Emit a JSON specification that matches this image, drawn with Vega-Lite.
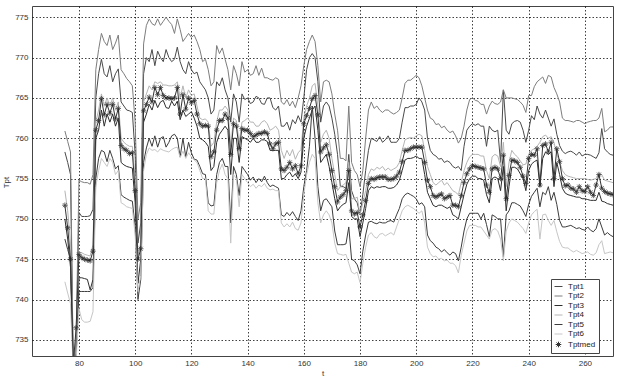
{
"$schema":"https://vega.github.io/schema/vega-lite/v6.json",
"width":581,"height":350,
"autosize":{"type":"none"},
"padding":{"left":32,"top":6,"right":10,"bottom":26},
"background":"#ffffff",
"config":{"view":{"stroke":"#444","strokeWidth":1},"font":"Liberation Sans",
 "axis":{"labelFont":"Liberation Sans","labelFontSize":8,"labelColor":"#333","titleFont":"Liberation Sans","titleFontSize":8,"titleFontWeight":"normal","titleColor":"#333","grid":true,"gridDash":[1.5,2],"gridColor":"#000","gridOpacity":0.75,"domain":false,"ticks":false}},
"data":{"values":[
{"t":75,"Tpt1":758.3,"Tpt2":760.9,"Tpt3":750.0,"Tpt4":753.5,"Tpt5":747.5,"Tpt6":742.2,"Tptmed":751.7},
{"t":76,"Tpt1":757.0,"Tpt2":759.6,"Tpt3":747.5,"Tpt4":751.0,"Tpt5":746.2,"Tpt6":740.8,"Tptmed":748.9},
{"t":77,"Tpt1":755.5,"Tpt2":758.3,"Tpt3":744.0,"Tpt4":747.0,"Tpt5":745.0,"Tpt6":739.5,"Tptmed":745.0},
{"t":78,"Tpt1":731,"Tpt2":731,"Tpt3":731,"Tpt4":731,"Tpt5":731,"Tpt6":731,"Tptmed":732.0},
{"t":79,"Tpt1":734.5,"Tpt2":735,"Tpt3":733.5,"Tpt4":734,"Tpt5":733,"Tpt6":732.5,"Tptmed":736.5},
{"t":80,"Tpt1":750.8,"Tpt2":754.8,"Tpt3":742.7,"Tpt4":745.9,"Tpt5":741.0,"Tpt6":738.9,"Tptmed":745.6},
{"t":81,"Tpt1":750.3,"Tpt2":754.6,"Tpt3":742.7,"Tpt4":745.8,"Tpt5":741.0,"Tpt6":737.5,"Tptmed":745.2},
{"t":82,"Tpt1":750.3,"Tpt2":754.5,"Tpt3":742.6,"Tpt4":745.6,"Tpt5":741.0,"Tpt6":737.2,"Tptmed":745.0},
{"t":83,"Tpt1":750.3,"Tpt2":754.5,"Tpt3":742.5,"Tpt4":745.5,"Tpt5":741.0,"Tpt6":737.2,"Tptmed":744.9},
{"t":84,"Tpt1":750.4,"Tpt2":754.3,"Tpt3":741.2,"Tpt4":745.4,"Tpt5":741.0,"Tpt6":737.3,"Tptmed":744.8},
{"t":85,"Tpt1":751.2,"Tpt2":755.5,"Tpt3":742.5,"Tpt4":746.8,"Tpt5":741.5,"Tpt6":738.5,"Tptmed":746.0},
{"t":86,"Tpt1":765.0,"Tpt2":768.5,"Tpt3":760.0,"Tpt4":762.0,"Tpt5":755.0,"Tpt6":754.0,"Tptmed":761.0},
{"t":87,"Tpt1":768.0,"Tpt2":771.0,"Tpt3":761.0,"Tpt4":763.5,"Tpt5":757.5,"Tpt6":756.0,"Tptmed":762.2},
{"t":88,"Tpt1":769.8,"Tpt2":773.0,"Tpt3":763.5,"Tpt4":765.5,"Tpt5":758.5,"Tpt6":757.5,"Tptmed":764.9},
{"t":89,"Tpt1":768.0,"Tpt2":772.0,"Tpt3":761.5,"Tpt4":764.0,"Tpt5":758.3,"Tpt6":757.0,"Tptmed":762.9},
{"t":90,"Tpt1":767.6,"Tpt2":771.5,"Tpt3":763.0,"Tpt4":765.0,"Tpt5":757.1,"Tpt6":756.5,"Tptmed":764.2},
{"t":91,"Tpt1":769.0,"Tpt2":772.8,"Tpt3":762.0,"Tpt4":764.0,"Tpt5":758.5,"Tpt6":757.5,"Tptmed":763.1},
{"t":92,"Tpt1":767.0,"Tpt2":771.0,"Tpt3":763.0,"Tpt4":765.0,"Tpt5":757.5,"Tpt6":757.0,"Tptmed":764.2},
{"t":93,"Tpt1":768.0,"Tpt2":771.8,"Tpt3":761.5,"Tpt4":763.5,"Tpt5":756.2,"Tpt6":755.5,"Tptmed":762.4},
{"t":94,"Tpt1":768.6,"Tpt2":772.8,"Tpt3":762.5,"Tpt4":764.5,"Tpt5":756.6,"Tpt6":756.0,"Tptmed":763.7},
{"t":95,"Tpt1":764.5,"Tpt2":768.5,"Tpt3":757.0,"Tpt4":760.0,"Tpt5":753.0,"Tpt6":752.0,"Tptmed":759.1},
{"t":96,"Tpt1":764.0,"Tpt2":768.0,"Tpt3":756.7,"Tpt4":759.5,"Tpt5":752.7,"Tpt6":751.8,"Tptmed":758.7},
{"t":97,"Tpt1":763.5,"Tpt2":767.4,"Tpt3":756.5,"Tpt4":759.2,"Tpt5":752.5,"Tpt6":751.5,"Tptmed":758.5},
{"t":98,"Tpt1":763.4,"Tpt2":767.0,"Tpt3":756.4,"Tpt4":759.0,"Tpt5":752.3,"Tpt6":751.4,"Tptmed":758.1},
{"t":99,"Tpt1":763.2,"Tpt2":766.5,"Tpt3":756.3,"Tpt4":759.0,"Tpt5":752.2,"Tpt6":751.3,"Tptmed":758.2},
{"t":100,"Tpt1":758.0,"Tpt2":762.0,"Tpt3":752.0,"Tpt4":755.0,"Tpt5":749.0,"Tpt6":748.0,"Tptmed":753.5},
{"t":101,"Tpt1":747.0,"Tpt2":750.0,"Tpt3":742.0,"Tpt4":745.5,"Tpt5":740.0,"Tpt6":741.0,"Tptmed":745.0},
{"t":102,"Tpt1":749.5,"Tpt2":752.0,"Tpt3":745.0,"Tpt4":747.0,"Tpt5":742.5,"Tpt6":743.0,"Tptmed":746.3},
{"t":103,"Tpt1":768.0,"Tpt2":771.7,"Tpt3":762.0,"Tpt4":764.5,"Tpt5":757.0,"Tpt6":756.0,"Tptmed":763.4},
{"t":104,"Tpt1":770.0,"Tpt2":774.0,"Tpt3":763.0,"Tpt4":765.5,"Tpt5":758.8,"Tpt6":758.0,"Tptmed":764.2},
{"t":105,"Tpt1":769.5,"Tpt2":774.8,"Tpt3":764.2,"Tpt4":766.5,"Tpt5":760.0,"Tpt6":758.8,"Tptmed":765.1},
{"t":106,"Tpt1":771.0,"Tpt2":774.2,"Tpt3":763.5,"Tpt4":766.0,"Tpt5":759.0,"Tpt6":758.5,"Tptmed":764.5},
{"t":107,"Tpt1":769.0,"Tpt2":774.0,"Tpt3":764.7,"Tpt4":767.0,"Tpt5":760.3,"Tpt6":758.6,"Tptmed":766.3},
{"t":108,"Tpt1":770.8,"Tpt2":774.8,"Tpt3":763.8,"Tpt4":766.8,"Tpt5":758.9,"Tpt6":758.3,"Tptmed":765.4},
{"t":109,"Tpt1":770.0,"Tpt2":774.0,"Tpt3":764.5,"Tpt4":767.0,"Tpt5":760.0,"Tpt6":758.7,"Tptmed":766.3},
{"t":110,"Tpt1":769.5,"Tpt2":774.5,"Tpt3":764.7,"Tpt4":766.6,"Tpt5":760.2,"Tpt6":758.5,"Tptmed":765.3},
{"t":111,"Tpt1":771.0,"Tpt2":775.0,"Tpt3":763.8,"Tpt4":766.6,"Tpt5":758.9,"Tpt6":758.4,"Tptmed":765.0},
{"t":112,"Tpt1":770.0,"Tpt2":774.5,"Tpt3":763.7,"Tpt4":766.5,"Tpt5":759.5,"Tpt6":758.3,"Tptmed":765.0},
{"t":113,"Tpt1":769.5,"Tpt2":774.1,"Tpt3":764.6,"Tpt4":766.5,"Tpt5":760.3,"Tpt6":758.6,"Tptmed":764.9},
{"t":114,"Tpt1":769.8,"Tpt2":773.0,"Tpt3":764.0,"Tpt4":766.6,"Tpt5":760.5,"Tpt6":758.8,"Tptmed":765.0},
{"t":115,"Tpt1":771.3,"Tpt2":774.8,"Tpt3":764.6,"Tpt4":767.0,"Tpt5":760.0,"Tpt6":758.9,"Tptmed":766.3},
{"t":116,"Tpt1":769.5,"Tpt2":773.5,"Tpt3":762.3,"Tpt4":765.0,"Tpt5":757.7,"Tpt6":757.6,"Tptmed":763.0},
{"t":117,"Tpt1":768.5,"Tpt2":772.0,"Tpt3":763.5,"Tpt4":766.5,"Tpt5":760.0,"Tpt6":758.4,"Tptmed":765.4},
{"t":118,"Tpt1":768.0,"Tpt2":772.5,"Tpt3":762.7,"Tpt4":765.0,"Tpt5":757.7,"Tpt6":757.5,"Tptmed":763.6},
{"t":119,"Tpt1":769.5,"Tpt2":773.0,"Tpt3":763.0,"Tpt4":766.0,"Tpt5":759.5,"Tpt6":758.2,"Tptmed":765.0},
{"t":120,"Tpt1":768.5,"Tpt2":772.5,"Tpt3":763.3,"Tpt4":765.3,"Tpt5":758.2,"Tpt6":757.7,"Tptmed":764.4},
{"t":121,"Tpt1":768.0,"Tpt2":772.8,"Tpt3":762.5,"Tpt4":765.5,"Tpt5":757.4,"Tpt6":757.3,"Tptmed":764.7},
{"t":122,"Tpt1":768.2,"Tpt2":772.0,"Tpt3":761.5,"Tpt4":764.0,"Tpt5":757.3,"Tpt6":757.0,"Tptmed":763.0},
{"t":123,"Tpt1":767.0,"Tpt2":771.0,"Tpt3":760.0,"Tpt4":762.5,"Tpt5":756.5,"Tpt6":756.0,"Tptmed":761.8},
{"t":124,"Tpt1":766.5,"Tpt2":769.5,"Tpt3":759.8,"Tpt4":762.3,"Tpt5":755.6,"Tpt6":755.0,"Tptmed":761.5},
{"t":125,"Tpt1":766.0,"Tpt2":769.8,"Tpt3":759.5,"Tpt4":762.4,"Tpt5":755.5,"Tpt6":755.0,"Tptmed":761.6},
{"t":126,"Tpt1":765.0,"Tpt2":768.5,"Tpt3":759.0,"Tpt4":762.0,"Tpt5":752.0,"Tpt6":751.0,"Tptmed":761.5},
{"t":127,"Tpt1":763.0,"Tpt2":766.5,"Tpt3":756.0,"Tpt4":759.0,"Tpt5":751.6,"Tpt6":750.6,"Tptmed":757.7},
{"t":128,"Tpt1":763.5,"Tpt2":767.0,"Tpt3":756.5,"Tpt4":759.5,"Tpt5":751.7,"Tpt6":750.6,"Tptmed":758.3},
{"t":129,"Tpt1":767.0,"Tpt2":771.5,"Tpt3":759.5,"Tpt4":762.0,"Tpt5":755.5,"Tpt6":754.5,"Tptmed":761.0},
{"t":130,"Tpt1":766.5,"Tpt2":770.5,"Tpt3":760.5,"Tpt4":763.5,"Tpt5":757.0,"Tpt6":756.0,"Tptmed":762.2},
{"t":131,"Tpt1":767.5,"Tpt2":771.2,"Tpt3":761.0,"Tpt4":763.5,"Tpt5":757.5,"Tpt6":756.8,"Tptmed":762.2},
{"t":132,"Tpt1":766.0,"Tpt2":769.8,"Tpt3":761.5,"Tpt4":764.0,"Tpt5":756.5,"Tpt6":755.5,"Tptmed":763.0},
{"t":133,"Tpt1":765.0,"Tpt2":768.5,"Tpt3":761.0,"Tpt4":763.5,"Tpt5":756.5,"Tpt6":755.0,"Tptmed":762.5},
{"t":134,"Tpt1":762.0,"Tpt2":766.0,"Tpt3":755.5,"Tpt4":759.0,"Tpt5":749.5,"Tpt6":747.0,"Tptmed":758.0},
{"t":135,"Tpt1":765.5,"Tpt2":769.0,"Tpt3":760.0,"Tpt4":762.5,"Tpt5":756.5,"Tpt6":755.5,"Tptmed":761.8},
{"t":136,"Tpt1":764.5,"Tpt2":768.0,"Tpt3":760.0,"Tpt4":762.2,"Tpt5":755.5,"Tpt6":755.0,"Tptmed":761.5},
{"t":137,"Tpt1":762.0,"Tpt2":766.5,"Tpt3":757.0,"Tpt4":759.5,"Tpt5":752.9,"Tpt6":751.5,"Tptmed":758.7},
{"t":138,"Tpt1":765.5,"Tpt2":769.5,"Tpt3":760.2,"Tpt4":762.0,"Tpt5":756.5,"Tpt6":755.5,"Tptmed":761.2},
{"t":139,"Tpt1":764.8,"Tpt2":768.2,"Tpt3":760.0,"Tpt4":762.2,"Tpt5":756.0,"Tpt6":755.0,"Tptmed":761.0},
{"t":140,"Tpt1":765.0,"Tpt2":768.5,"Tpt3":759.8,"Tpt4":762.5,"Tpt5":755.5,"Tpt6":754.5,"Tptmed":761.0},
{"t":141,"Tpt1":764.3,"Tpt2":767.8,"Tpt3":759.5,"Tpt4":762.0,"Tpt5":754.8,"Tpt6":754.0,"Tptmed":760.6},
{"t":142,"Tpt1":764.5,"Tpt2":768.0,"Tpt3":760.0,"Tpt4":762.0,"Tpt5":755.2,"Tpt6":754.3,"Tptmed":760.2},
{"t":143,"Tpt1":765.2,"Tpt2":769.0,"Tpt3":759.5,"Tpt4":761.5,"Tpt5":754.5,"Tpt6":753.8,"Tptmed":760.4},
{"t":144,"Tpt1":765.0,"Tpt2":767.8,"Tpt3":759.5,"Tpt4":761.5,"Tpt5":755.0,"Tpt6":754.2,"Tptmed":760.6},
{"t":145,"Tpt1":764.3,"Tpt2":768.7,"Tpt3":759.8,"Tpt4":762.0,"Tpt5":754.6,"Tpt6":754.0,"Tptmed":760.6},
{"t":146,"Tpt1":764.2,"Tpt2":767.5,"Tpt3":759.8,"Tpt4":762.2,"Tpt5":755.3,"Tpt6":754.4,"Tptmed":760.8},
{"t":147,"Tpt1":765.0,"Tpt2":767.5,"Tpt3":759.6,"Tpt4":761.8,"Tpt5":754.5,"Tpt6":753.8,"Tptmed":760.6},
{"t":148,"Tpt1":765.0,"Tpt2":767.3,"Tpt3":758.5,"Tpt4":761.0,"Tpt5":754.0,"Tpt6":753.6,"Tptmed":759.3},
{"t":149,"Tpt1":763.8,"Tpt2":767.2,"Tpt3":758.5,"Tpt4":761.2,"Tpt5":754.2,"Tpt6":753.7,"Tptmed":758.7},
{"t":150,"Tpt1":763.5,"Tpt2":767.5,"Tpt3":758.5,"Tpt4":761.5,"Tpt5":754.0,"Tpt6":753.5,"Tptmed":759.3},
{"t":151,"Tpt1":764.0,"Tpt2":767.3,"Tpt3":758.5,"Tpt4":761.0,"Tpt5":753.8,"Tpt6":753.5,"Tptmed":759.5},
{"t":152,"Tpt1":761.5,"Tpt2":764.5,"Tpt3":755.0,"Tpt4":758.5,"Tpt5":750.5,"Tpt6":749.5,"Tptmed":756.2},
{"t":153,"Tpt1":761.5,"Tpt2":764.2,"Tpt3":755.0,"Tpt4":757.5,"Tpt5":750.3,"Tpt6":749.0,"Tptmed":756.0},
{"t":154,"Tpt1":762.0,"Tpt2":764.8,"Tpt3":755.5,"Tpt4":758.5,"Tpt5":750.8,"Tpt6":749.4,"Tptmed":756.4},
{"t":155,"Tpt1":761.0,"Tpt2":764.0,"Tpt3":755.8,"Tpt4":757.8,"Tpt5":750.4,"Tpt6":749.0,"Tptmed":757.0},
{"t":156,"Tpt1":762.3,"Tpt2":764.6,"Tpt3":755.2,"Tpt4":758.6,"Tpt5":750.9,"Tpt6":749.6,"Tptmed":756.2},
{"t":157,"Tpt1":761.8,"Tpt2":763.8,"Tpt3":755.6,"Tpt4":757.4,"Tpt5":750.3,"Tpt6":748.8,"Tptmed":756.6},
{"t":158,"Tpt1":762.8,"Tpt2":765.0,"Tpt3":755.0,"Tpt4":758.2,"Tpt5":749.8,"Tpt6":748.6,"Tptmed":755.6},
{"t":159,"Tpt1":762.0,"Tpt2":766.5,"Tpt3":755.8,"Tpt4":758.6,"Tpt5":751.0,"Tpt6":749.5,"Tptmed":756.6},
{"t":160,"Tpt1":765.0,"Tpt2":769.0,"Tpt3":760.0,"Tpt4":762.5,"Tpt5":754.0,"Tpt6":753.0,"Tptmed":761.8},
{"t":161,"Tpt1":768.5,"Tpt2":771.0,"Tpt3":761.5,"Tpt4":764.0,"Tpt5":756.0,"Tpt6":755.5,"Tptmed":762.8},
{"t":162,"Tpt1":770.0,"Tpt2":772.0,"Tpt3":762.5,"Tpt4":765.0,"Tpt5":759.0,"Tpt6":757.0,"Tptmed":763.7},
{"t":163,"Tpt1":770.5,"Tpt2":772.8,"Tpt3":763.5,"Tpt4":766.5,"Tpt5":764.0,"Tpt6":758.0,"Tptmed":764.9},
{"t":164,"Tpt1":770.0,"Tpt2":772.0,"Tpt3":764.0,"Tpt4":766.8,"Tpt5":760.0,"Tpt6":757.5,"Tptmed":765.3},
{"t":165,"Tpt1":767.0,"Tpt2":769.0,"Tpt3":761.0,"Tpt4":764.0,"Tpt5":754.0,"Tpt6":752.0,"Tptmed":762.9},
{"t":166,"Tpt1":762.0,"Tpt2":764.5,"Tpt3":757.0,"Tpt4":759.5,"Tpt5":751.0,"Tpt6":749.5,"Tptmed":758.3},
{"t":167,"Tpt1":764.0,"Tpt2":767.0,"Tpt3":757.5,"Tpt4":760.5,"Tpt5":752.3,"Tpt6":750.5,"Tptmed":758.8},
{"t":168,"Tpt1":764.5,"Tpt2":767.2,"Tpt3":758.0,"Tpt4":761.0,"Tpt5":752.5,"Tpt6":751.0,"Tptmed":759.2},
{"t":169,"Tpt1":764.0,"Tpt2":767.0,"Tpt3":756.5,"Tpt4":760.0,"Tpt5":752.0,"Tpt6":750.5,"Tptmed":758.0},
{"t":170,"Tpt1":762.5,"Tpt2":765.5,"Tpt3":754.5,"Tpt4":757.5,"Tpt5":751.5,"Tpt6":749.5,"Tptmed":756.0},
{"t":171,"Tpt1":760.5,"Tpt2":763.0,"Tpt3":752.5,"Tpt4":755.5,"Tpt5":748.5,"Tpt6":747.0,"Tptmed":754.0},
{"t":172,"Tpt1":758.0,"Tpt2":761.0,"Tpt3":751.0,"Tpt4":753.5,"Tpt5":746.8,"Tpt6":745.7,"Tptmed":752.1},
{"t":173,"Tpt1":754.0,"Tpt2":757.5,"Tpt3":751.5,"Tpt4":754.0,"Tpt5":746.8,"Tpt6":745.6,"Tptmed":752.7},
{"t":174,"Tpt1":754.0,"Tpt2":757.5,"Tpt3":751.8,"Tpt4":754.2,"Tpt5":746.8,"Tpt6":745.5,"Tptmed":753.0},
{"t":175,"Tpt1":753.8,"Tpt2":757.2,"Tpt3":752.0,"Tpt4":754.5,"Tpt5":746.9,"Tpt6":745.6,"Tptmed":753.5},
{"t":176,"Tpt1":758.0,"Tpt2":764.0,"Tpt3":754.5,"Tpt4":757.0,"Tpt5":749.0,"Tpt6":744.5,"Tptmed":756.0},
{"t":177,"Tpt1":753.5,"Tpt2":757.0,"Tpt3":750.3,"Tpt4":752.5,"Tpt5":745.0,"Tpt6":743.4,"Tptmed":751.0},
{"t":178,"Tpt1":752.5,"Tpt2":756.0,"Tpt3":750.0,"Tpt4":752.5,"Tpt5":744.8,"Tpt6":743.2,"Tptmed":750.6},
{"t":179,"Tpt1":752.0,"Tpt2":755.5,"Tpt3":750.0,"Tpt4":752.7,"Tpt5":744.3,"Tpt6":743.4,"Tptmed":750.8},
{"t":180,"Tpt1":750.5,"Tpt2":754.0,"Tpt3":747.8,"Tpt4":750.5,"Tpt5":743.2,"Tpt6":742.1,"Tptmed":749.0},
{"t":181,"Tpt1":753.0,"Tpt2":756.0,"Tpt3":749.5,"Tpt4":752.0,"Tpt5":746.0,"Tpt6":744.5,"Tptmed":750.5},
{"t":182,"Tpt1":756.0,"Tpt2":760.0,"Tpt3":751.3,"Tpt4":753.5,"Tpt5":748.0,"Tpt6":746.5,"Tptmed":752.3},
{"t":183,"Tpt1":758.5,"Tpt2":763.5,"Tpt3":753.5,"Tpt4":755.5,"Tpt5":749.6,"Tpt6":748.0,"Tptmed":754.4},
{"t":184,"Tpt1":760.0,"Tpt2":764.5,"Tpt3":754.0,"Tpt4":756.2,"Tpt5":749.7,"Tpt6":748.3,"Tptmed":755.0},
{"t":185,"Tpt1":759.8,"Tpt2":763.7,"Tpt3":753.8,"Tpt4":756.0,"Tpt5":749.5,"Tpt6":747.8,"Tptmed":754.9},
{"t":186,"Tpt1":759.6,"Tpt2":764.0,"Tpt3":754.0,"Tpt4":756.4,"Tpt5":749.4,"Tpt6":747.6,"Tptmed":755.1},
{"t":187,"Tpt1":760.2,"Tpt2":763.5,"Tpt3":753.9,"Tpt4":756.2,"Tpt5":749.6,"Tpt6":748.1,"Tptmed":755.2},
{"t":188,"Tpt1":759.5,"Tpt2":763.2,"Tpt3":754.0,"Tpt4":756.5,"Tpt5":749.5,"Tpt6":748.2,"Tptmed":755.2},
{"t":189,"Tpt1":759.8,"Tpt2":763.5,"Tpt3":754.0,"Tpt4":756.0,"Tpt5":749.5,"Tpt6":747.9,"Tptmed":755.2},
{"t":190,"Tpt1":760.3,"Tpt2":763.5,"Tpt3":753.8,"Tpt4":756.3,"Tpt5":749.7,"Tpt6":748.1,"Tptmed":754.9},
{"t":191,"Tpt1":759.5,"Tpt2":763.2,"Tpt3":753.8,"Tpt4":756.0,"Tpt5":749.8,"Tpt6":748.3,"Tptmed":754.9},
{"t":192,"Tpt1":759.5,"Tpt2":763.0,"Tpt3":753.9,"Tpt4":756.2,"Tpt5":749.6,"Tpt6":748.0,"Tptmed":755.0},
{"t":193,"Tpt1":759.5,"Tpt2":763.2,"Tpt3":754.2,"Tpt4":756.4,"Tpt5":750.5,"Tpt6":749.0,"Tptmed":755.3},
{"t":194,"Tpt1":760.0,"Tpt2":763.5,"Tpt3":754.8,"Tpt4":757.0,"Tpt5":751.3,"Tpt6":750.0,"Tptmed":755.8},
{"t":195,"Tpt1":762.0,"Tpt2":765.0,"Tpt3":756.0,"Tpt4":758.5,"Tpt5":752.5,"Tpt6":751.0,"Tptmed":757.1},
{"t":196,"Tpt1":763.8,"Tpt2":766.8,"Tpt3":757.3,"Tpt4":759.8,"Tpt5":753.0,"Tpt6":751.5,"Tptmed":758.5},
{"t":197,"Tpt1":763.8,"Tpt2":767.2,"Tpt3":757.5,"Tpt4":760.0,"Tpt5":753.2,"Tpt6":751.7,"Tptmed":758.5},
{"t":198,"Tpt1":764.0,"Tpt2":767.2,"Tpt3":757.5,"Tpt4":760.1,"Tpt5":753.0,"Tpt6":751.5,"Tptmed":758.7},
{"t":199,"Tpt1":764.0,"Tpt2":767.5,"Tpt3":757.6,"Tpt4":760.0,"Tpt5":752.8,"Tpt6":751.3,"Tptmed":758.9},
{"t":200,"Tpt1":764.2,"Tpt2":767.8,"Tpt3":757.8,"Tpt4":760.3,"Tpt5":752.5,"Tpt6":751.0,"Tptmed":758.9},
{"t":201,"Tpt1":765.0,"Tpt2":767.5,"Tpt3":757.5,"Tpt4":760.5,"Tpt5":751.8,"Tpt6":750.7,"Tptmed":758.9},
{"t":202,"Tpt1":764.5,"Tpt2":766.5,"Tpt3":757.5,"Tpt4":760.3,"Tpt5":752.0,"Tpt6":751.0,"Tptmed":758.9},
{"t":203,"Tpt1":763.5,"Tpt2":765.0,"Tpt3":755.5,"Tpt4":758.5,"Tpt5":751.5,"Tpt6":749.5,"Tptmed":757.0},
{"t":204,"Tpt1":760.0,"Tpt2":763.5,"Tpt3":753.3,"Tpt4":756.5,"Tpt5":748.0,"Tpt6":746.5,"Tptmed":754.8},
{"t":205,"Tpt1":758.5,"Tpt2":762.5,"Tpt3":752.5,"Tpt4":755.5,"Tpt5":747.3,"Tpt6":745.7,"Tptmed":754.0},
{"t":206,"Tpt1":758.0,"Tpt2":762.3,"Tpt3":751.7,"Tpt4":754.5,"Tpt5":747.0,"Tpt6":745.3,"Tptmed":752.9},
{"t":207,"Tpt1":757.8,"Tpt2":761.7,"Tpt3":751.5,"Tpt4":754.2,"Tpt5":746.5,"Tpt6":745.4,"Tptmed":752.7},
{"t":208,"Tpt1":757.4,"Tpt2":761.8,"Tpt3":751.7,"Tpt4":754.5,"Tpt5":746.3,"Tpt6":745.0,"Tptmed":752.9},
{"t":209,"Tpt1":757.5,"Tpt2":761.3,"Tpt3":751.7,"Tpt4":754.8,"Tpt5":745.9,"Tpt6":745.1,"Tptmed":753.1},
{"t":210,"Tpt1":757.0,"Tpt2":761.5,"Tpt3":751.5,"Tpt4":754.2,"Tpt5":746.2,"Tpt6":744.8,"Tptmed":752.5},
{"t":211,"Tpt1":757.2,"Tpt2":761.0,"Tpt3":751.3,"Tpt4":754.5,"Tpt5":745.8,"Tpt6":744.9,"Tptmed":752.7},
{"t":212,"Tpt1":757.0,"Tpt2":760.7,"Tpt3":751.5,"Tpt4":754.0,"Tpt5":745.5,"Tpt6":744.5,"Tptmed":752.9},
{"t":213,"Tpt1":756.5,"Tpt2":760.9,"Tpt3":750.5,"Tpt4":753.5,"Tpt5":745.9,"Tpt6":744.5,"Tptmed":751.7},
{"t":214,"Tpt1":756.3,"Tpt2":760.3,"Tpt3":750.3,"Tpt4":753.3,"Tpt5":745.7,"Tpt6":744.2,"Tptmed":751.7},
{"t":215,"Tpt1":756.5,"Tpt2":759.4,"Tpt3":750.0,"Tpt4":753.0,"Tpt5":744.8,"Tpt6":743.3,"Tptmed":751.5},
{"t":216,"Tpt1":756.0,"Tpt2":760.0,"Tpt3":751.5,"Tpt4":754.5,"Tpt5":746.5,"Tpt6":745.5,"Tptmed":752.9},
{"t":217,"Tpt1":759.0,"Tpt2":761.5,"Tpt3":753.0,"Tpt4":756.0,"Tpt5":748.5,"Tpt6":747.0,"Tptmed":754.5},
{"t":218,"Tpt1":761.0,"Tpt2":763.5,"Tpt3":754.3,"Tpt4":757.0,"Tpt5":750.0,"Tpt6":748.5,"Tptmed":755.6},
{"t":219,"Tpt1":761.5,"Tpt2":764.8,"Tpt3":755.0,"Tpt4":757.7,"Tpt5":750.7,"Tpt6":749.2,"Tptmed":756.2},
{"t":220,"Tpt1":761.8,"Tpt2":765.0,"Tpt3":755.3,"Tpt4":758.0,"Tpt5":750.7,"Tpt6":749.2,"Tptmed":756.6},
{"t":221,"Tpt1":761.6,"Tpt2":764.7,"Tpt3":755.3,"Tpt4":758.0,"Tpt5":750.7,"Tpt6":749.2,"Tptmed":756.5},
{"t":222,"Tpt1":761.8,"Tpt2":764.6,"Tpt3":755.0,"Tpt4":758.0,"Tpt5":750.7,"Tpt6":749.0,"Tptmed":756.4},
{"t":223,"Tpt1":761.5,"Tpt2":764.2,"Tpt3":755.0,"Tpt4":757.8,"Tpt5":750.0,"Tpt6":749.0,"Tptmed":756.3},
{"t":224,"Tpt1":761.5,"Tpt2":764.2,"Tpt3":754.8,"Tpt4":757.8,"Tpt5":750.7,"Tpt6":748.5,"Tptmed":756.2},
{"t":225,"Tpt1":759.0,"Tpt2":763.0,"Tpt3":753.0,"Tpt4":756.0,"Tpt5":749.3,"Tpt6":748.0,"Tptmed":754.2},
{"t":226,"Tpt1":761.5,"Tpt2":764.0,"Tpt3":752.0,"Tpt4":755.0,"Tpt5":747.8,"Tpt6":747.5,"Tptmed":753.3},
{"t":227,"Tpt1":761.0,"Tpt2":764.6,"Tpt3":755.0,"Tpt4":757.7,"Tpt5":750.5,"Tpt6":748.6,"Tptmed":756.2},
{"t":228,"Tpt1":760.8,"Tpt2":764.3,"Tpt3":755.2,"Tpt4":758.0,"Tpt5":750.3,"Tpt6":748.8,"Tptmed":756.4},
{"t":229,"Tpt1":761.0,"Tpt2":764.2,"Tpt3":755.0,"Tpt4":757.8,"Tpt5":750.0,"Tpt6":748.5,"Tptmed":756.2},
{"t":230,"Tpt1":757.0,"Tpt2":764.5,"Tpt3":753.5,"Tpt4":756.5,"Tpt5":750.0,"Tpt6":747.5,"Tptmed":755.0},
{"t":231,"Tpt1":766.0,"Tpt2":766.0,"Tpt3":756.5,"Tpt4":759.5,"Tpt5":745.3,"Tpt6":744.8,"Tptmed":757.9},
{"t":232,"Tpt1":761.0,"Tpt2":765.0,"Tpt3":751.0,"Tpt4":754.0,"Tpt5":750.5,"Tpt6":748.5,"Tptmed":752.5},
{"t":233,"Tpt1":760.5,"Tpt2":765.0,"Tpt3":754.0,"Tpt4":757.0,"Tpt5":751.0,"Tpt6":749.5,"Tptmed":755.4},
{"t":234,"Tpt1":761.8,"Tpt2":765.0,"Tpt3":756.4,"Tpt4":758.5,"Tpt5":752.0,"Tpt6":750.0,"Tptmed":757.3},
{"t":235,"Tpt1":762.1,"Tpt2":764.9,"Tpt3":756.4,"Tpt4":758.0,"Tpt5":752.0,"Tpt6":749.8,"Tptmed":757.2},
{"t":236,"Tpt1":762.2,"Tpt2":764.8,"Tpt3":756.2,"Tpt4":757.7,"Tpt5":751.8,"Tpt6":749.6,"Tptmed":757.0},
{"t":237,"Tpt1":762.0,"Tpt2":764.5,"Tpt3":755.6,"Tpt4":757.2,"Tpt5":751.6,"Tpt6":749.2,"Tptmed":756.4},
{"t":238,"Tpt1":761.0,"Tpt2":764.1,"Tpt3":755.0,"Tpt4":756.7,"Tpt5":751.0,"Tpt6":748.8,"Tptmed":755.3},
{"t":239,"Tpt1":759.5,"Tpt2":763.2,"Tpt3":753.5,"Tpt4":756.8,"Tpt5":750.3,"Tpt6":748.2,"Tptmed":754.4},
{"t":240,"Tpt1":761.0,"Tpt2":765.3,"Tpt3":756.0,"Tpt4":758.0,"Tpt5":751.8,"Tpt6":749.5,"Tptmed":757.5},
{"t":241,"Tpt1":762.8,"Tpt2":765.3,"Tpt3":756.8,"Tpt4":758.5,"Tpt5":752.8,"Tpt6":750.5,"Tptmed":758.0},
{"t":242,"Tpt1":762.3,"Tpt2":766.4,"Tpt3":757.1,"Tpt4":758.7,"Tpt5":753.3,"Tpt6":750.9,"Tptmed":757.9},
{"t":243,"Tpt1":764.0,"Tpt2":767.0,"Tpt3":757.3,"Tpt4":759.0,"Tpt5":753.8,"Tpt6":751.2,"Tptmed":758.7},
{"t":244,"Tpt1":763.0,"Tpt2":767.3,"Tpt3":754.0,"Tpt4":759.5,"Tpt5":751.5,"Tpt6":747.5,"Tptmed":754.2},
{"t":245,"Tpt1":762.5,"Tpt2":767.6,"Tpt3":757.5,"Tpt4":760.2,"Tpt5":753.3,"Tpt6":750.5,"Tptmed":759.1},
{"t":246,"Tpt1":763.5,"Tpt2":766.8,"Tpt3":758.3,"Tpt4":760.4,"Tpt5":753.0,"Tpt6":750.6,"Tptmed":759.3},
{"t":247,"Tpt1":762.5,"Tpt2":767.8,"Tpt3":758.0,"Tpt4":760.0,"Tpt5":754.0,"Tpt6":749.8,"Tptmed":758.3},
{"t":248,"Tpt1":761.5,"Tpt2":767.6,"Tpt3":758.3,"Tpt4":760.2,"Tpt5":752.3,"Tpt6":749.2,"Tptmed":759.5},
{"t":249,"Tpt1":762.4,"Tpt2":766.3,"Tpt3":754.0,"Tpt4":759.5,"Tpt5":753.3,"Tpt6":749.8,"Tptmed":755.0},
{"t":250,"Tpt1":760.5,"Tpt2":765.5,"Tpt3":757.0,"Tpt4":758.0,"Tpt5":751.8,"Tpt6":748.4,"Tptmed":758.7},
{"t":251,"Tpt1":759.1,"Tpt2":764.5,"Tpt3":755.5,"Tpt4":757.1,"Tpt5":749.8,"Tpt6":747.2,"Tptmed":757.1},
{"t":252,"Tpt1":758.4,"Tpt2":762.5,"Tpt3":753.8,"Tpt4":756.0,"Tpt5":749.0,"Tpt6":746.5,"Tptmed":755.0},
{"t":253,"Tpt1":758.1,"Tpt2":762.2,"Tpt3":753.2,"Tpt4":755.5,"Tpt5":749.0,"Tpt6":746.4,"Tptmed":754.1},
{"t":254,"Tpt1":758.3,"Tpt2":762.2,"Tpt3":753.0,"Tpt4":755.3,"Tpt5":749.1,"Tpt6":746.4,"Tptmed":754.2},
{"t":255,"Tpt1":758.4,"Tpt2":762.1,"Tpt3":752.9,"Tpt4":755.2,"Tpt5":749.2,"Tpt6":746.1,"Tptmed":753.8},
{"t":256,"Tpt1":758.2,"Tpt2":762.0,"Tpt3":752.8,"Tpt4":755.1,"Tpt5":749.0,"Tpt6":745.9,"Tptmed":753.7},
{"t":257,"Tpt1":757.9,"Tpt2":762.2,"Tpt3":752.7,"Tpt4":755.0,"Tpt5":748.8,"Tpt6":746.1,"Tptmed":753.3},
{"t":258,"Tpt1":758.3,"Tpt2":762.2,"Tpt3":752.7,"Tpt4":755.0,"Tpt5":748.9,"Tpt6":745.9,"Tptmed":754.0},
{"t":259,"Tpt1":757.8,"Tpt2":762.0,"Tpt3":752.5,"Tpt4":755.0,"Tpt5":748.7,"Tpt6":745.7,"Tptmed":753.5},
{"t":260,"Tpt1":758.0,"Tpt2":761.8,"Tpt3":752.5,"Tpt4":755.0,"Tpt5":748.6,"Tpt6":745.8,"Tptmed":753.4},
{"t":261,"Tpt1":758.0,"Tpt2":762.0,"Tpt3":752.4,"Tpt4":754.9,"Tpt5":749.0,"Tpt6":745.9,"Tptmed":754.0},
{"t":262,"Tpt1":757.9,"Tpt2":762.1,"Tpt3":752.3,"Tpt4":754.8,"Tpt5":748.6,"Tpt6":745.6,"Tptmed":753.3},
{"t":263,"Tpt1":757.7,"Tpt2":762.2,"Tpt3":752.3,"Tpt4":754.9,"Tpt5":748.4,"Tpt6":745.5,"Tptmed":752.9},
{"t":264,"Tpt1":757.5,"Tpt2":762.2,"Tpt3":752.3,"Tpt4":755.0,"Tpt5":748.8,"Tpt6":745.8,"Tptmed":754.2},
{"t":265,"Tpt1":758.2,"Tpt2":762.5,"Tpt3":753.3,"Tpt4":755.6,"Tpt5":750.0,"Tpt6":746.8,"Tptmed":755.5},
{"t":266,"Tpt1":761.2,"Tpt2":763.7,"Tpt3":752.2,"Tpt4":755.5,"Tpt5":749.0,"Tpt6":747.3,"Tptmed":753.8},
{"t":267,"Tpt1":758.7,"Tpt2":760.8,"Tpt3":752.1,"Tpt4":754.8,"Tpt5":748.0,"Tpt6":745.7,"Tptmed":753.4},
{"t":268,"Tpt1":758.3,"Tpt2":761.0,"Tpt3":751.9,"Tpt4":754.7,"Tpt5":748.3,"Tpt6":745.8,"Tptmed":753.2},
{"t":269,"Tpt1":758.0,"Tpt2":761.4,"Tpt3":751.8,"Tpt4":754.6,"Tpt5":748.0,"Tpt6":745.9,"Tptmed":753.1},
{"t":270,"Tpt1":757.9,"Tpt2":761.4,"Tpt3":751.7,"Tpt4":754.5,"Tpt5":747.8,"Tpt6":745.8,"Tptmed":753.0}
]},
"transform":[{"fold":["Tpt1","Tpt2","Tpt3","Tpt4","Tpt5","Tpt6","Tptmed"],"as":["series","Tpt"]}],
"encoding":{
 "x":{"field":"t","type":"quantitative","scale":{"domain":[63.3,270],"nice":false,"zero":false},
  "axis":{"values":[80,100,120,140,160,180,200,220,240,260],"title":"t","labelPadding":3,"titleY":13}},
 "y":{"field":"Tpt","type":"quantitative","scale":{"domain":[733,776.4],"nice":false,"zero":false},
  "axis":{"values":[735,740,745,750,755,760,765,770,775],"title":"Tpt","labelPadding":4,"titleX":-22,"titleY":176}}
},
"layer":[
 {"mark":{"type":"line","strokeWidth":1,"clip":true},
  "encoding":{"color":{"field":"series","type":"nominal",
   "scale":{"domain":["Tpt1","Tpt2","Tpt3","Tpt4","Tpt5","Tpt6","Tptmed"],"range":["#4a4a4a","#7d7d7d","#2e2e2e","#b4b4b4","#3c3c3c","#c6c6c6","#333333"]},
   "legend":{"orient":"none","legendX":519,"legendY":273,"title":null,"fillColor":"#ffffff","strokeColor":"#444444","padding":3,"rowPadding":0.5,"labelFontSize":8,"labelFont":"Liberation Sans","labelColor":"#222222","symbolType":"stroke","symbolSize":64,"symbolStrokeWidth":1,"labelOffset":5,
     "encode":{"symbols":{"update":{"shape":{"signal":"datum.value === 'Tptmed' ? 'M0,-0.7L0,0.7M-0.7,0L0.7,0M-0.5,-0.5L0.5,0.5M-0.5,0.5L0.5,-0.5' : 'stroke'"}}}}}}}},
 {"transform":[{"filter":"datum.series === 'Tptmed'"}],
  "mark":{"type":"point","filled":false,"strokeWidth":1,"size":60,"clip":true,"shape":"M0,-0.7L0,0.7M-0.7,0L0.7,0M-0.5,-0.5L0.5,0.5M-0.5,0.5L0.5,-0.5","color":"#222222"},
  "encoding":{}}
]
}
